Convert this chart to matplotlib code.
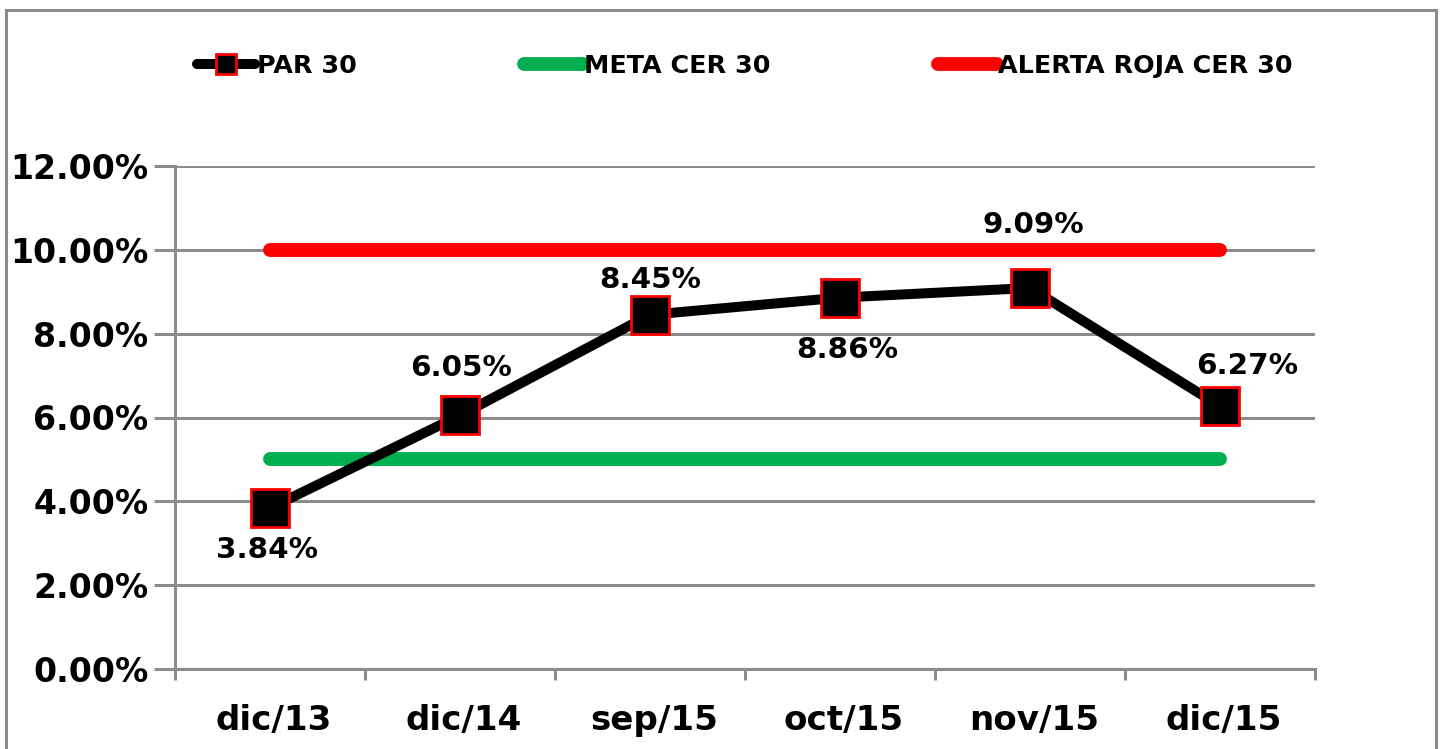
import matplotlib
matplotlib.use("Agg")
import matplotlib.pyplot as plt
from matplotlib.patches import Rectangle
from matplotlib.ticker import FixedLocator, FuncFormatter
from matplotlib.transforms import ScaledTranslation

# ---- data ----
categories = ["dic/13", "dic/14", "sep/15", "oct/15", "nov/15", "dic/15"]
par30 = [3.84, 6.05, 8.45, 8.86, 9.09, 6.27]
meta_cer30 = [5.0, 5.0, 5.0, 5.0, 5.0, 5.0]
alerta_roja = [10.0, 10.0, 10.0, 10.0, 10.0, 10.0]
y_ticks = [0, 2, 4, 6, 8, 10, 12]

# label offsets in pixels (layout only)
label_offsets = [(-3, -42), (1, 47), (0, 35), (7, -52), (3, 63), (27, 40)]

plt.rcParams['font.family'] = ['DejaVu Sans']
plt.rcParams['font.weight'] = 'bold'

W, H = 1442, 749
fig = plt.figure(figsize=(W / 100, H / 100), dpi=100)
ax = fig.add_axes([175 / W, (H - 669) / H, (1315 - 175) / W, (669 - 166) / H])

grid_c = "#8c8c8c"
x = list(range(len(categories)))

ax.plot(x, alerta_roja, color="#ff0000", lw=10, solid_capstyle='round', label="ALERTA ROJA CER 30", zorder=3)
ax.plot(x, meta_cer30, color="#00b050", lw=10, solid_capstyle='round', label="META CER 30", zorder=3)
ax.plot(x, par30, color="black", lw=7.2, marker='s', markersize=27,
        markerfacecolor='black', markeredgecolor='#ff0000', markeredgewidth=2,
        label="PAR 30", zorder=4, solid_capstyle='round')

for xi, v, (dx, dy) in zip(x, par30, label_offsets):
    ax.annotate(f"{v:.2f}%", (xi, v), xytext=(dx, dy), textcoords='offset pixels',
                ha='center', va='center', fontsize=21.2, fontweight='bold', zorder=5)

ax.set_xlim(-0.5, len(categories) - 0.5)
ax.set_ylim(0, 12)
ax.yaxis.set_major_locator(FixedLocator(y_ticks))
ax.yaxis.set_major_formatter(FuncFormatter(lambda v, p: f"{v:.2f}%"))
ax.grid(axis='y', color=grid_c, lw=2.2, zorder=1)
ax.set_axisbelow(True)

ax.set_xticks(x)
ax.set_xticklabels(categories)
ax.set_xticks([i - 0.5 for i in range(len(categories) + 1)], minor=True)
ax.tick_params(axis='x', which='major', length=0, pad=25, labelsize=24.6)
ax.tick_params(axis='x', which='minor', length=8, width=2.2, color=grid_c, direction='out')
ax.tick_params(axis='y', which='major', length=15, width=2.2, color=grid_c, direction='out',
               pad=4, labelsize=23.9)

shift = ScaledTranslation(4 / 100, 0, fig.dpi_scale_trans)
for lab in ax.get_xticklabels():
    lab.set_transform(lab.get_transform() + shift)

for s in ['top', 'right']:
    ax.spines[s].set_visible(False)
for s in ['left', 'bottom']:
    ax.spines[s].set_color(grid_c)
    ax.spines[s].set_linewidth(2.2)

for lab in ax.get_xticklabels() + ax.get_yticklabels():
    lab.set_fontweight('bold')

handles, labels = ax.get_legend_handles_labels()
order = [2, 1, 0]
leg = fig.legend([handles[i] for i in order], [labels[i] for i in order],
                 loc='center left', bbox_to_anchor=(174 / W, (H - 66) / H), ncol=3,
                 frameon=False, handlelength=2.3, handletextpad=0.05, columnspacing=6.6,
                 prop={'weight': 'bold', 'size': 18.3}, markerscale=0.55)

# outer border
fig.patches.append(Rectangle((6 / W, -0.02), (1436 - 6) / W, (H - 10) / H + 0.02,
                             transform=fig.transFigure, fill=False, edgecolor=grid_c,
                             lw=2.2, zorder=0))

fig.savefig("out.png", dpi=100)
